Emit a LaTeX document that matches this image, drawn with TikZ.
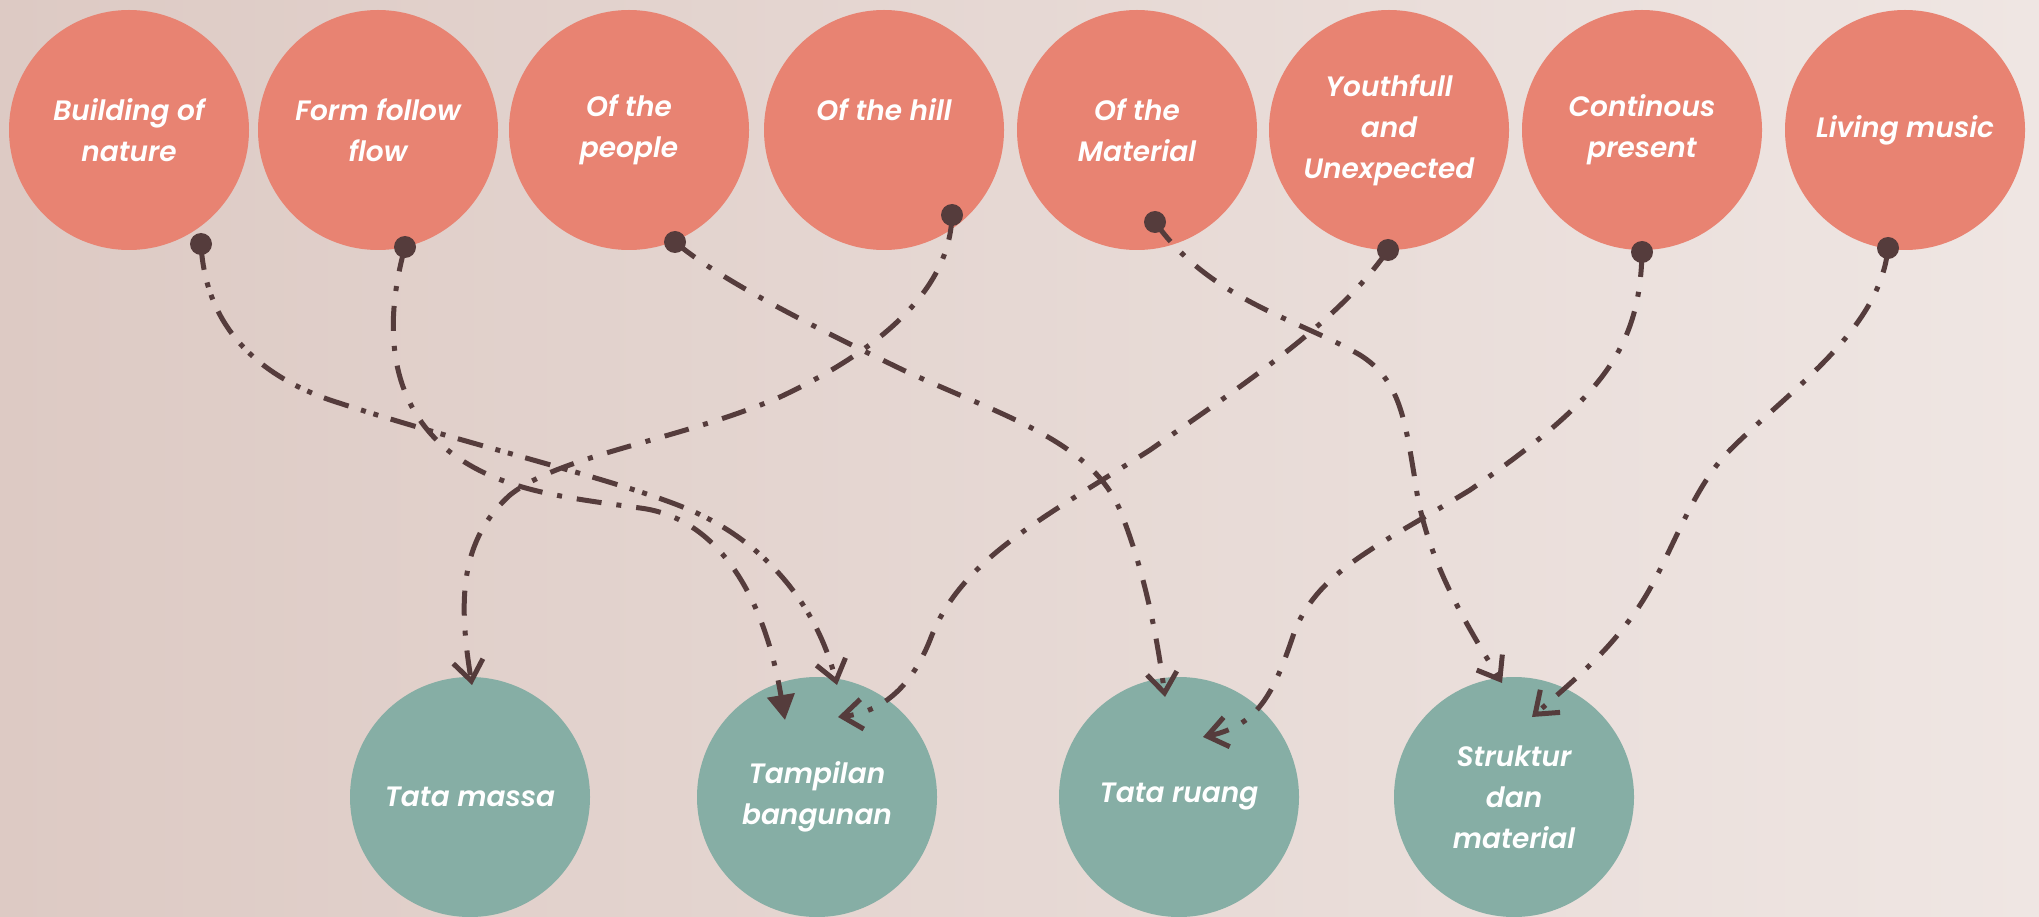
\documentclass[tikz,border=0pt]{standalone}
\usepackage{fontspec}
\setsansfont{Poppins}[BoldFont={* SemiBold},BoldItalicFont={* SemiBold Italic}]
\usetikzlibrary{arrows.meta,calc}
\definecolor{salmon}{HTML}{E88372}
\definecolor{sage}{HTML}{86AEA5}
\definecolor{brownline}{HTML}{553C3C}
\definecolor{bgL}{HTML}{DDCAC4}
\definecolor{bgR}{HTML}{EFE6E3}
\begin{document}
\begin{tikzpicture}[x=1pt,y=-1pt,
  topc/.style={circle,fill=salmon,minimum size=240pt,inner sep=0pt,text=white,
    font=\sffamily\bfseries\itshape\fontsize{28}{41}\selectfont,align=center},
  botc/.style={topc,fill=sage},
  conn/.style={line width=5pt,draw=brownline,line cap=butt},
  dd/.style={conn,dash pattern=on 25pt off 15pt on 5pt off 15pt},
  ddd/.style={conn,dash pattern=on 26pt off 13pt on 5pt off 8pt on 5pt off 13pt},
  barb/.style={-{Straight Barb[length=20pt,width=30pt]}},
  tri/.style={-{Triangle[length=25pt,width=27pt]}},
  startdot/.style={fill=brownline}]
\fill[left color=bgL,right color=bgR] (0,0) rectangle (2039,917);
\useasboundingbox (0,0) rectangle (2039,917);
% top circles
\node[topc] (t1) at (129,130) {Building of\\nature};
\node[topc] (t2) at (378,130) {Form follow\\flow};
\node[topc] (t3) at (629,130) {Of the\\people};
\node[topc] (t4) at (884,130) {Of the hill\\\mbox{}};
\node[topc] (t5) at (1137,130) {Of the\\Material};
\node[topc] (t6) at (1389,130) {Youthfull\\and\\Unexpected};
\node[topc] (t7) at (1642,130) {Continous\\present};
\node[topc] (t8) at (1905,130) {Living music};
% bottom circles
\node[botc] (b1) at (470,797) {Tata massa};
\node[botc] (b2) at (817,797) {Tampilan\\bangunan};
\node[botc] (b3) at (1179,797) {Tata ruang};
\node[botc] (b4) at (1514,797) {Struktur\\dan\\material};
% start and end points
\coordinate (s1) at ($(t1)+(72,114)$);
\coordinate (s2) at ($(t2)+(27,117)$);
\coordinate (s3) at ($(t3)+(46,112)$);
\coordinate (s4) at ($(t4)+(68,85)$);
\coordinate (s5) at ($(t5)+(18,92)$);
\coordinate (s6) at ($(t6)+(-1,120)$);
\coordinate (s7) at ($(t7)+(0,122)$);
\coordinate (s8) at ($(t8)+(-17,118)$);
\coordinate (e1) at ($(b2)+(20,-112)$);
\coordinate (e2) at ($(b2)+(-32,-77)$);
\coordinate (e3) at ($(b3)+(-14,-100)$);
\coordinate (e4) at ($(b1)+(2,-112)$);
\coordinate (e5) at ($(b4)+(-12,-114)$);
\coordinate (e6) at ($(b2)+(21,-80)$);
\coordinate (e7) at ($(b3)+(24,-60)$);
\coordinate (e8) at ($(b4)+(18,-80)$);
% connectors
\draw[ddd,barb] (s1) .. controls (205,320) and (250,372) .. (330,400)
  .. controls (457,442) and (620,480) .. (690,510)
  .. controls (760,540) and (815,600) .. (e1);
\draw[dd,tri] (s2) .. controls (385,320) and (385,400) .. (450,452)
  .. controls (500,490) and (560,497) .. (640,508)
  .. controls (720,518) and (765,600) .. (e2);
\draw[dd,barb] (s3) .. controls (720,280) and (810,325) .. (903,370)
  .. controls (1000,415) and (1090,440) .. (1120,510)
  .. controls (1140,560) and (1155,620) .. (e3);
\draw[dd,barb] (s4) .. controls (950,290) and (880,350) .. (780,397)
  .. controls (680,440) and (560,455) .. (510,495)
  .. controls (460,540) and (458,600) .. (e4);
\draw[dd,barb] (s5) .. controls (1210,300) and (1300,320) .. (1360,355)
  .. controls (1400,380) and (1405,420) .. (1415,480)
  .. controls (1425,560) and (1470,630) .. (e5);
\draw[dd,barb] (s6) .. controls (1340,320) and (1250,380) .. (1150,450)
  .. controls (1040,520) and (960,560) .. (930,640)
  .. controls (910,690) and (880,712) .. (e6);
\draw[dd,barb] (s7) .. controls (1640,350) and (1600,400) .. (1470,490)
  .. controls (1380,545) and (1320,570) .. (1295,630)
  .. controls (1275,690) and (1260,725) .. (e7);
\draw[dd,barb] (s8) .. controls (1880,330) and (1790,390) .. (1730,450)
  .. controls (1690,490) and (1670,560) .. (1640,605)
  .. controls (1610,650) and (1580,675) .. (e8);
% start dots
\foreach \s in {s1,s2,s3,s4,s5,s6,s7,s8}
  \fill[startdot] (\s) circle[radius=11pt];
\end{tikzpicture}
\end{document}
